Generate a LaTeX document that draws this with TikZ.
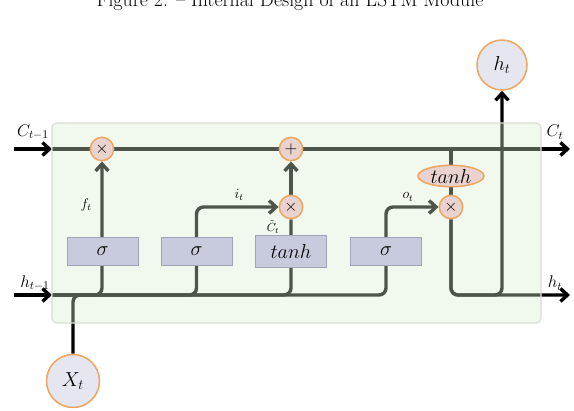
\documentclass[tikz,border=0pt]{standalone}
\usepackage{amssymb}
\usepackage{amsmath}
\usetikzlibrary{arrows.meta,shapes.geometric}
\definecolor{gatefill}{RGB}{234,211,207}
\definecolor{gateedge}{RGB}{236,166,96}
\definecolor{sigfill}{RGB}{200,203,222}
\definecolor{sigedge}{RGB}{160,163,186}
\definecolor{iofill}{RGB}{230,230,240}
\definecolor{cellfill}{RGB}{215,235,205}
\definecolor{celledge}{RGB}{216,221,211}
\pgfdeclarelayer{background}
\pgfsetlayers{background,main}

\begin{document}
\begin{tikzpicture}[x=0.03cm,y=-0.03cm,
    conn/.style={line width=2.9pt, black},
    arr/.style={conn, -{Straight Barb[length=6pt,width=11pt]}},
    gate/.style={circle, draw=gateedge, line width=1.3pt, fill=gatefill,
        minimum size=0.7cm, inner sep=0pt, font=\Large},
    sigbox/.style={rectangle, draw=sigedge, line width=0.8pt, fill=sigfill,
        minimum width=2.13cm, minimum height=0.84cm, inner sep=0pt,
        font=\fontsize{18}{20}\selectfont},
    iocirc/.style={circle, draw=gateedge, line width=1.3pt, fill=iofill,
        inner sep=0pt, font=\fontsize{18}{20}\selectfont},
    iolbl/.style={font=\fontsize{14}{15}\selectfont},
    gatelbl/.style={font=\fontsize{12}{13}\selectfont},
    cell/.style={rounded corners=4pt, draw=celledge, line width=1pt,
        fill=cellfill, fill opacity=0.36}]
    \useasboundingbox (0,0) rectangle (574,410);

    \node[anchor=base, font=\fontsize{17}{20}\selectfont] (caption) at (290,6)
        {Figure 2: -- Internal Design of an LSTM Module};

    \coordinate (cin) at (14,149);
    \coordinate (cl) at (52,149);
    \coordinate (cout) at (570,149);
    \coordinate (hin) at (14,295);
    \coordinate (hl) at (52,295);
    \coordinate (hout) at (570,295);

    \node[gate] (mulf) at (102,149) {$\times$};
    \node[gate] (add) at (291,149) {$+$};
    \node[gate] (muli) at (291,207) {$\times$};
    \node[gate] (mulo) at (451,207) {$\times$};
    \node[ellipse, draw=gateedge, line width=1.3pt, fill=gatefill, inner sep=0pt,
        minimum width=1.98cm, minimum height=0.64cm,
        font=\fontsize{18}{20}\selectfont] (tanhc) at (451,176) {$tanh$};

    \node[sigbox] (sigf) at (102.5,251) {$\sigma$};
    \node[sigbox] (sigi) at (196.5,251) {$\sigma$};
    \node[sigbox, minimum height=0.96cm] (tanhb) at (291,251) {$tanh$};
    \node[sigbox] (sigo) at (386,251) {$\sigma$};

    \node[iocirc, minimum size=1.5cm] (ht) at (502,65) {$h_t$};
    \node[iocirc, minimum size=1.59cm] (xt) at (73,381) {$X_t$};

    \node[iolbl] (lcin) at (33,132) {$C_{t-1}$};
    \node[iolbl] (lhin) at (35,283) {$h_{t-1}$};
    \node[iolbl] (lcout) at (555,132) {$C_t$};
    \node[iolbl] (lhout) at (555,283) {$h_t$};
    \node[gatelbl] (lf) at (86,205) {$f_t$};
    \node[gatelbl] (li) at (239,195) {$i_t$};
    \node[gatelbl, font=\fontsize{10}{11}\selectfont, inner sep=0.5pt] (lc) at (273,227) {$\tilde{C}_t$};
    \node[gatelbl] (lo) at (408,197) {$o_t$};

    \begin{pgfonlayer}{background}
        \draw[arr] (cin) -- (cl);
        \draw[arr] (hin) -- (hl);
        \draw[arr] (cl) -- (cout);
        \draw[arr, rounded corners=6pt] (hl) -| (sigo.center) |- (mulo);
        \draw[arr, rounded corners=6pt] (hl) -| (mulf);
        \draw[arr, rounded corners=6pt] (hl) -| (sigi.center) |- (muli);
        \draw[conn, rounded corners=6pt] (hl) -| (tanhb.center) -- (muli);
        \draw[conn, rounded corners=6pt] (xt) |- (sigf |- hl);
        \draw[arr] (muli) -- (add);
        \draw[conn] (mulo |- cl) -- (tanhc);
        \draw[conn] (tanhc) -- (mulo);
        \draw[arr, rounded corners=6pt] (mulo) |- (hout);
        \draw[arr, rounded corners=6pt] (mulo) |- (ht |- hout) -- (ht);
        \draw[cell] (52,123) rectangle (541,323);
    \end{pgfonlayer}
\end{tikzpicture}
\end{document}
